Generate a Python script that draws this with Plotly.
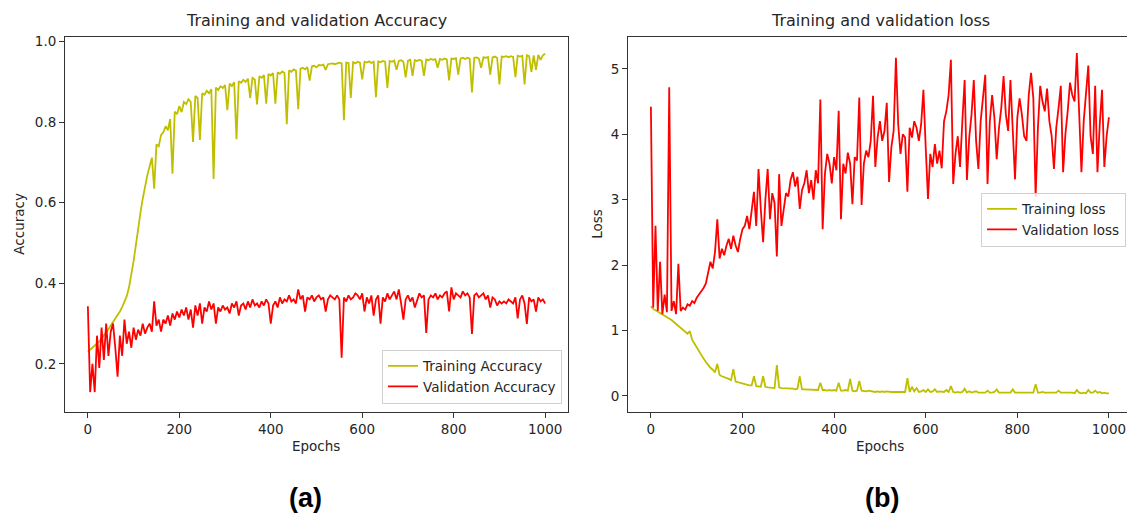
import plotly.graph_objects as go

epochs = list(range(0, 1001, 5))

train_acc = [
    0.230, 0.235, 0.240, 0.245, 0.250, 0.256, 0.263, 0.270, 0.278, 0.286,
    0.295, 0.303, 0.312, 0.320, 0.330, 0.341, 0.353, 0.368, 0.390, 0.420,
    0.455, 0.495, 0.540, 0.575, 0.610, 0.640, 0.668, 0.690, 0.712, 0.635,
    0.745, 0.740, 0.768, 0.775, 0.790, 0.780, 0.808, 0.672, 0.826, 0.820,
    0.840, 0.825, 0.850, 0.845, 0.857, 0.850, 0.751, 0.865, 0.860, 0.756,
    0.872, 0.868, 0.878, 0.872, 0.882, 0.659, 0.886, 0.880, 0.889, 0.885,
    0.892, 0.830, 0.896, 0.890, 0.899, 0.758, 0.902, 0.898, 0.905, 0.900,
    0.908, 0.860, 0.910, 0.906, 0.844, 0.914, 0.910, 0.917, 0.846, 0.920,
    0.916, 0.922, 0.846, 0.924, 0.920, 0.926, 0.922, 0.795, 0.929, 0.925,
    0.931, 0.928, 0.832, 0.933, 0.935, 0.931, 0.937, 0.903, 0.939, 0.940,
    0.936, 0.942, 0.941, 0.943, 0.930, 0.944, 0.945, 0.946, 0.944, 0.947,
    0.948, 0.946, 0.805, 0.948, 0.947, 0.860, 0.949, 0.946, 0.950, 0.948,
    0.906, 0.950, 0.948, 0.951, 0.947, 0.950, 0.862, 0.951, 0.949, 0.952,
    0.950, 0.885, 0.952, 0.950, 0.953, 0.930, 0.952, 0.954, 0.950, 0.911,
    0.953, 0.955, 0.915, 0.954, 0.952, 0.955, 0.953, 0.915, 0.956, 0.954,
    0.957, 0.955, 0.956, 0.935, 0.957, 0.955, 0.958, 0.956, 0.904, 0.958,
    0.957, 0.959, 0.918, 0.958, 0.960, 0.957, 0.960, 0.958, 0.874, 0.960,
    0.961, 0.958, 0.935, 0.961, 0.960, 0.962, 0.918, 0.961, 0.963, 0.960,
    0.894, 0.963, 0.962, 0.964, 0.961, 0.964, 0.962, 0.912, 0.965, 0.963,
    0.965, 0.894, 0.966, 0.964, 0.925, 0.966, 0.930, 0.967, 0.955, 0.966,
    0.970,
]

val_acc = [
    0.343, 0.130, 0.200, 0.130, 0.270, 0.190, 0.290, 0.210, 0.300, 0.220,
    0.280, 0.300, 0.240, 0.168, 0.270, 0.220, 0.310, 0.250, 0.280, 0.240,
    0.290, 0.260, 0.285, 0.270, 0.300, 0.275, 0.290, 0.300, 0.280, 0.355,
    0.295, 0.310, 0.280, 0.310, 0.300, 0.320, 0.295, 0.325, 0.310, 0.330,
    0.315, 0.335, 0.320, 0.340, 0.310, 0.335, 0.290, 0.345, 0.320, 0.350,
    0.300, 0.340, 0.330, 0.355, 0.335, 0.350, 0.300, 0.340, 0.330, 0.345,
    0.335, 0.340, 0.325, 0.350, 0.340, 0.355, 0.320, 0.345, 0.350, 0.335,
    0.355, 0.340, 0.360, 0.345, 0.350, 0.340, 0.355, 0.345, 0.360, 0.350,
    0.300, 0.345, 0.355, 0.340, 0.365, 0.350, 0.360, 0.355, 0.370, 0.355,
    0.360, 0.350, 0.385, 0.360, 0.370, 0.330, 0.365, 0.360, 0.370, 0.355,
    0.365, 0.370, 0.360, 0.365, 0.330, 0.360, 0.370, 0.365, 0.360, 0.370,
    0.360, 0.215, 0.365, 0.355, 0.370, 0.360, 0.365, 0.375, 0.370, 0.360,
    0.375, 0.330, 0.365, 0.350, 0.370, 0.320, 0.360, 0.370, 0.300, 0.365,
    0.355, 0.375, 0.360, 0.370, 0.380, 0.360, 0.385, 0.350, 0.310, 0.360,
    0.370, 0.355, 0.365, 0.340, 0.360, 0.375, 0.365, 0.370, 0.277, 0.360,
    0.370, 0.365, 0.375, 0.360, 0.370, 0.365, 0.375, 0.380, 0.330, 0.390,
    0.360, 0.375, 0.370, 0.365, 0.380, 0.370, 0.375, 0.365, 0.274, 0.370,
    0.375, 0.365, 0.370, 0.375, 0.360, 0.370, 0.340, 0.365, 0.360, 0.345,
    0.355, 0.350, 0.355, 0.350, 0.360, 0.355, 0.350, 0.365, 0.313, 0.360,
    0.370, 0.350, 0.299, 0.365, 0.355, 0.360, 0.330, 0.365, 0.355, 0.360,
    0.350,
]

train_loss = [
    1.37, 1.33, 1.31, 1.29, 1.27, 1.25, 1.23, 1.21, 1.19, 1.16,
    1.13, 1.10, 1.07, 1.04, 1.02, 0.98, 0.95, 0.99, 0.86, 0.80,
    0.74, 0.67, 0.63, 0.57, 0.52, 0.47, 0.43, 0.40, 0.36, 0.49,
    0.32, 0.30, 0.29, 0.27, 0.26, 0.24, 0.41, 0.22, 0.21, 0.20,
    0.18, 0.17, 0.17, 0.16, 0.16, 0.30, 0.15, 0.14, 0.14, 0.30,
    0.14, 0.13, 0.13, 0.13, 0.12, 0.47, 0.13, 0.12, 0.12, 0.11,
    0.12, 0.11, 0.11, 0.10, 0.11, 0.30, 0.10, 0.10, 0.10, 0.09,
    0.10, 0.09, 0.09, 0.09, 0.20, 0.09, 0.09, 0.08, 0.09, 0.08,
    0.09, 0.08, 0.20, 0.08, 0.08, 0.09, 0.08, 0.26, 0.08, 0.07,
    0.08, 0.23, 0.08, 0.07, 0.07, 0.08, 0.07, 0.07, 0.06, 0.07,
    0.06, 0.07, 0.06, 0.07, 0.06, 0.06, 0.06, 0.06, 0.06, 0.06,
    0.06, 0.06, 0.27, 0.06, 0.14, 0.07, 0.12, 0.06, 0.07, 0.09,
    0.06, 0.10, 0.06, 0.07, 0.10, 0.06, 0.07, 0.06, 0.06, 0.09,
    0.06, 0.15, 0.06, 0.05, 0.06, 0.05, 0.06, 0.11, 0.05, 0.07,
    0.05, 0.06, 0.07, 0.05, 0.05, 0.06, 0.05, 0.08, 0.05, 0.05,
    0.06, 0.10, 0.05, 0.05, 0.05, 0.06, 0.05, 0.05, 0.10, 0.05,
    0.05, 0.05, 0.06, 0.05, 0.05, 0.05, 0.06, 0.05, 0.18, 0.05,
    0.05, 0.06, 0.05, 0.05, 0.05, 0.06, 0.05, 0.05, 0.08, 0.05,
    0.05, 0.05, 0.05, 0.06, 0.05, 0.04, 0.09, 0.05, 0.04, 0.05,
    0.04, 0.09, 0.05, 0.05, 0.08, 0.05, 0.06, 0.04, 0.05, 0.04,
    0.04,
]

val_loss = [
    4.42, 1.35, 2.60, 1.30, 2.05, 1.25, 1.55, 1.28, 4.72, 1.30,
    1.45, 1.25, 2.02, 1.30, 1.35, 1.32, 1.40, 1.38, 1.45, 1.42,
    1.50, 1.55, 1.60, 1.65, 1.72, 1.90, 2.05, 1.95, 2.20, 2.70,
    2.10, 2.25, 2.15, 2.30, 2.40, 2.25, 2.45, 2.30, 2.20, 2.40,
    2.55, 2.60, 2.75, 2.55, 2.80, 3.12, 2.60, 3.47, 2.85, 2.35,
    3.00, 3.47, 2.70, 3.10, 2.95, 2.13, 3.39, 2.60, 2.85, 3.10,
    3.05, 3.30, 3.42, 3.20, 3.35, 2.86, 3.15, 3.25, 3.45, 3.10,
    3.30, 3.00, 3.45, 3.25, 4.53, 2.55, 3.40, 3.70, 3.55, 3.25,
    3.65, 3.45, 4.36, 2.70, 3.55, 3.40, 3.72, 3.55, 2.93, 3.65,
    3.60, 4.56, 2.92, 3.55, 3.75, 3.65, 3.90, 4.59, 3.50, 3.95,
    4.20, 3.90, 4.05, 4.48, 3.27, 3.80, 4.05, 5.17, 4.15, 3.70,
    4.00, 3.95, 3.12, 4.10, 3.95, 4.20, 4.10, 3.90, 4.15, 4.68,
    3.80, 3.01, 3.70, 3.50, 3.85, 3.55, 3.75, 3.48, 4.20, 4.35,
    4.60, 5.14, 3.24, 3.70, 3.97, 3.50, 4.20, 4.83, 3.30, 3.95,
    4.30, 4.83, 3.90, 3.47, 4.20, 4.55, 4.91, 3.24, 4.20, 4.60,
    4.25, 3.62, 4.10, 4.40, 4.89, 4.30, 4.05, 4.83, 4.10, 3.31,
    4.25, 4.55, 4.30, 3.97, 3.90, 4.60, 4.94, 4.55, 3.04, 4.10,
    4.74, 4.50, 4.35, 4.70, 4.20, 3.97, 3.47, 4.10, 4.40, 4.74,
    3.42, 4.00, 4.35, 4.79, 4.60, 4.50, 5.24, 4.40, 3.42, 4.20,
    4.60, 5.05, 3.97, 3.70, 4.74, 3.42, 4.15, 4.68, 3.50, 3.97,
    4.26,
]

x_ticks = [0, 200, 400, 600, 800, 1000]
acc_ticks = [0.2, 0.4, 0.6, 0.8, 1.0]
loss_ticks = [0, 1, 2, 3, 4, 5]

# ---------------- styling ----------------
W, H = 1128, 514
FONT = "DejaVu Sans"
TXT = "#262626"
YEL = "#bfbf00"
RED = "#ff0000"
LW = 1.8


def fx(px):
    return px / W


def fy(py):
    return 1 - py / H


fig = go.Figure()
fig.add_trace(go.Scatter(x=epochs, y=train_acc, mode="lines", name="Training Accuracy",
                         line=dict(color=YEL, width=LW), xaxis="x", yaxis="y", legend="legend"))
fig.add_trace(go.Scatter(x=epochs, y=val_acc, mode="lines", name="Validation Accuracy",
                         line=dict(color=RED, width=LW), xaxis="x", yaxis="y", legend="legend"))
fig.add_trace(go.Scatter(x=epochs, y=train_loss, mode="lines", name="Training loss",
                         line=dict(color=YEL, width=LW), xaxis="x2", yaxis="y2", legend="legend2"))
fig.add_trace(go.Scatter(x=epochs, y=val_loss, mode="lines", name="Validation loss",
                         line=dict(color=RED, width=LW), xaxis="x2", yaxis="y2", legend="legend2"))

tickfont = dict(family=FONT, size=13.5, color=TXT)
common_ax = dict(showgrid=False, zeroline=False, ticks="outside", ticklen=5, tickwidth=1,
                 tickcolor="#333333", linecolor="#333333", linewidth=1, showline=True,
                 tickfont=tickfont)

ydom = [fy(411), fy(34)]
fig.update_layout(
    width=W, height=H,
    margin=dict(l=0, r=0, t=0, b=0),
    paper_bgcolor="white", plot_bgcolor="white",
    xaxis=dict(domain=[fx(65), fx(568)], anchor="y", range=[-50, 1050],
               tickvals=x_ticks, mirror=True, **common_ax),
    yaxis=dict(domain=ydom, anchor="x", range=[0.0815, 1.012], tickvals=acc_ticks,
               tickformat=".1f", mirror=True, **common_ax),
    xaxis2=dict(domain=[fx(628), fx(1127)], anchor="y2", range=[-50, 1039.5],
                tickvals=x_ticks, mirror=True, **common_ax),
    yaxis2=dict(domain=ydom, anchor="x2", range=[-0.24, 5.49], tickvals=loss_ticks,
                mirror=False, **common_ax),
    legend=dict(x=fx(562), y=fy(403), xanchor="right", yanchor="bottom",
                bgcolor="rgba(255,255,255,0.85)", bordercolor="#d0d0d0", borderwidth=1,
                font=dict(family=FONT, size=13.5, color=TXT), tracegroupgap=0),
    legend2=dict(x=fx(1126), y=fy(245), xanchor="right", yanchor="bottom",
                 bgcolor="rgba(255,255,255,0.85)", bordercolor="#d0d0d0", borderwidth=1,
                 font=dict(family=FONT, size=13.5, color=TXT), tracegroupgap=0),
    showlegend=True,
)

ann = []


def add_text(text, x, y, size, angle=0, bold=False, family=FONT, color=TXT):
    ann.append(dict(text=f"<b>{text}</b>" if bold else text, x=fx(x), y=fy(y),
                    xref="paper", yref="paper", xanchor="center", yanchor="middle",
                    showarrow=False, textangle=angle,
                    font=dict(family=family, size=size, color=color)))


add_text("Training and validation Accuracy", 316, 18, 16)
add_text("Training and validation loss", 880, 18, 16)
add_text("Epochs", 316, 446, 13.5)
add_text("Epochs", 880, 446, 13.5)
add_text("Accuracy", 19, 222, 13.5, angle=-90)
add_text("Loss", 597, 222, 13.5, angle=-90)
add_text("(a)", 305, 498, 27, bold=True, family="Liberation Sans", color="#000000")
add_text("(b)", 882, 498, 27, bold=True, family="Liberation Sans", color="#000000")
fig.update_layout(annotations=ann)

fig.write_html("out.html")
